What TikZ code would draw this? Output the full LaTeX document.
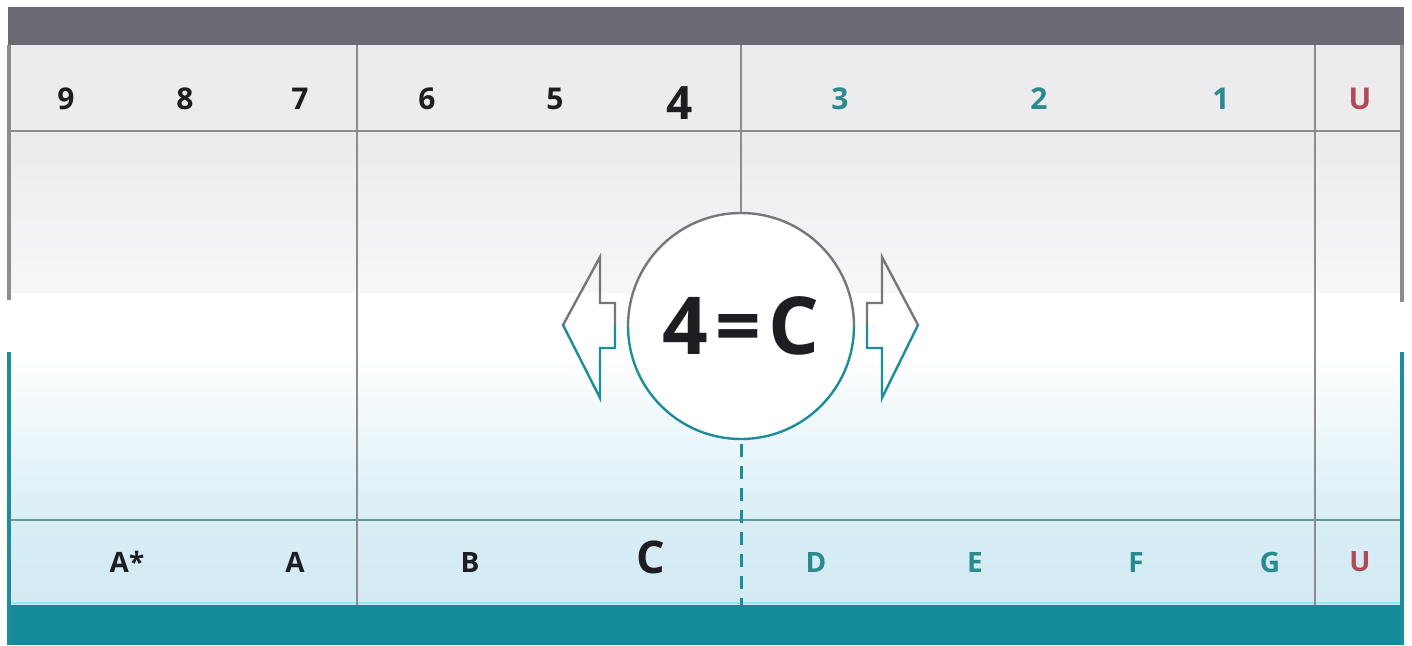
\documentclass[tikz,border=0pt]{standalone}
\usepackage{fontspec}
\setmainfont{Open Sans}
\definecolor{darkbar}{HTML}{6B6A72}
\definecolor{hdr}{HTML}{ECECEE}
\definecolor{bodytop}{HTML}{EBEBEE}
\definecolor{bodymid}{HTML}{F7F7F8}
\definecolor{bodybot}{HTML}{D9EEF6}
\definecolor{rowtop}{HTML}{D9EDF4}
\definecolor{rowbot}{HTML}{D2EAF3}
\definecolor{tealbar}{HTML}{14899A}
\definecolor{tealline}{HTML}{1D8E99}
\definecolor{rowline}{HTML}{5E9AA0}
\definecolor{gridgray}{HTML}{8C8C90}
\definecolor{ink}{HTML}{1E1E22}
\definecolor{tealtxt}{HTML}{2A8A8E}
\definecolor{redtxt}{HTML}{B04A56}
\definecolor{cyanline}{HTML}{8DEBF2}
\begin{document}
\begin{tikzpicture}[x=1pt,y=-1pt,
  lbl/.style={font=\bfseries\fontsize{30}{32}\selectfont, text=ink, inner sep=0pt, anchor=center},
  blbl/.style={font=\bfseries\fontsize{28}{30}\selectfont, text=ink, inner sep=0pt, anchor=center},
  grid/.style={draw=gridgray, line width=1.5pt},
  border/.style={line width=3.5pt},
  arrowgray/.style={draw=gridgray!85!black, line width=2.4pt, line join=miter},
  arrowteal/.style={draw=tealline, line width=2.4pt, line join=miter}]
\useasboundingbox (0,0) rectangle (1412,645);
\fill[white] (0,0) rectangle (1412,645);
% backgrounds
\fill[hdr] (9,45) rectangle (1402,131);
\shade[top color=bodytop, bottom color=bodymid] (9,131) rectangle (1402,293);
\fill[white] (9,293) rectangle (1402,352);
\shade[top color=white, bottom color=bodybot] (9,352) rectangle (1402,520);
\shade[top color=rowtop, bottom color=rowbot] (9,520) rectangle (1402,605);
\draw[cyanline, line width=2pt] (9,603) -- (1402,603);
\fill[tealbar] (8,605) rectangle (1404,645);
\fill[darkbar] (8,7) rectangle (1404,45);
% horizontal lines
\draw[grid] (9,131) -- (1402,131);
\draw[draw=rowline, line width=1.5pt] (9,520) -- (1402,520);
% column dividers
\draw[grid] (357,45) -- (357,605);
\draw[grid] (1315,45) -- (1315,605);
% outer borders
\draw[border, draw=gridgray] (9,45) -- (9,300);
\draw[border, draw=tealline] (9,352) -- (9,645);
\draw[border, draw=gridgray] (1402,45) -- (1402,302);
\draw[border, draw=tealline] (1402,352) -- (1402,645);
% central circle
\node[circle, minimum size=228pt, inner sep=0pt, fill=white,
      font=\bfseries\fontsize{80}{82}\selectfont, text=ink] (circ) at (741,326) {4{\kern7pt}={\kern7pt}C};
\begin{scope}
  \clip (600,150) rectangle (900,326);
  \draw[draw=gridgray!85!black, line width=2.4pt] (circ.center) circle[radius=113];
\end{scope}
\begin{scope}
  \clip (600,326) rectangle (900,460);
  \draw[draw=tealline, line width=2.4pt] (circ.center) circle[radius=113];
\end{scope}
% top connector and dashed bottom connector
\coordinate (topend) at (741,45);
\coordinate (botend) at (741,605);
\draw[grid] (topend) -- (circ.north);
\draw[draw=tealline, line width=3pt, dash pattern=on 13pt off 9pt] (circ.south) ++(0,4) -- (botend);
% left arrow
\begin{scope}
  \clip (540,240) rectangle (630,325);
  \draw[arrowgray] (563,325) -- (600,257) -- (600,303) -- (615,303) -- (615,348) -- (600,348) -- (600,398) -- cycle;
\end{scope}
\begin{scope}
  \clip (540,325) rectangle (630,410);
  \draw[arrowteal] (563,325) -- (600,257) -- (600,303) -- (615,303) -- (615,348) -- (600,348) -- (600,398) -- cycle;
\end{scope}
% right arrow
\begin{scope}
  \clip (855,240) rectangle (940,325);
  \draw[arrowgray] (918,325) -- (882,257) -- (882,303) -- (867,303) -- (867,348) -- (882,348) -- (882,398) -- cycle;
\end{scope}
\begin{scope}
  \clip (855,325) rectangle (940,410);
  \draw[arrowteal] (918,325) -- (882,257) -- (882,303) -- (867,303) -- (867,348) -- (882,348) -- (882,398) -- cycle;
\end{scope}
% header labels
\node[lbl] (h9) at (66,99) {9};
\node[lbl] (h8) at (185,99) {8};
\node[lbl] (h7) at (300,99) {7};
\node[lbl] (h6) at (427,99) {6};
\node[lbl] (h5) at (555,99) {5};
\node[lbl, font=\bfseries\fontsize{46}{48}\selectfont] (h4) at (680,103) {4};
\node[lbl, text=tealtxt] (h3) at (840,99) {3};
\node[lbl, text=tealtxt] (h2) at (1039,99) {2};
\node[lbl, text=tealtxt] (h1) at (1221,99) {1};
\node[lbl, text=redtxt] (hU) at (1360,99) {U};
% bottom labels
\node[blbl] (bAs) at (127,562) {A*};
\node[blbl] (bA) at (295,562) {A};
\node[blbl] (bB) at (470,562) {B};
\node[blbl, font=\bfseries\fontsize{45}{47}\selectfont] (bC) at (651,557) {C};
\node[blbl, text=tealtxt] (bD) at (816,562) {D};
\node[blbl, text=tealtxt] (bE) at (975,562) {E};
\node[blbl, text=tealtxt] (bF) at (1136,562) {F};
\node[blbl, text=tealtxt] (bG) at (1270,562) {G};
\node[blbl, text=redtxt] (bU) at (1360,562) {U};
\end{tikzpicture}
\end{document}
